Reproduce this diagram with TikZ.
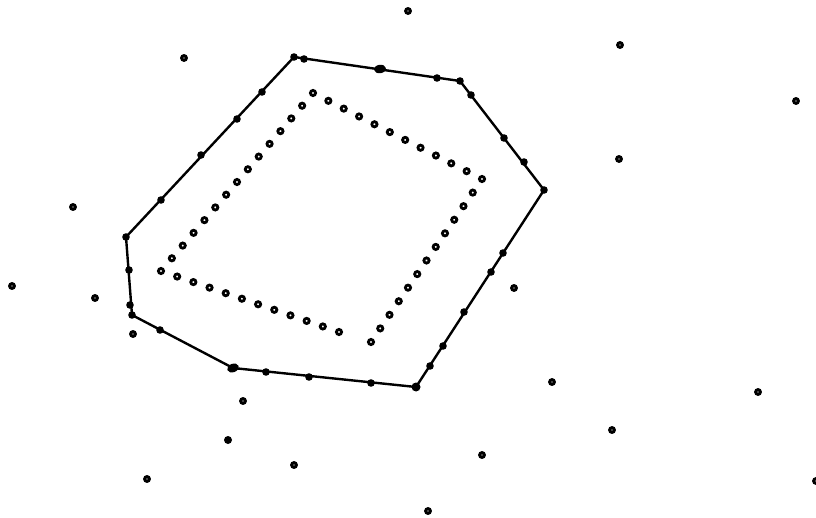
\documentclass[tikz,border=0pt]{standalone}
\usetikzlibrary{calc,shapes.geometric}
\begin{document}
\begin{tikzpicture}[x=1pt,y=-1pt,
  hull/.style={line width=2.4pt,line join=round},
  fdot/.style={circle,fill=black,inner sep=0pt,minimum size=7.6pt},
  bigdot/.style={ellipse,fill=black,inner sep=0pt,minimum width=12pt,minimum height=8.5pt},
  odot/.style={circle,draw=black,line width=2.8pt,inner sep=0pt,minimum size=5.2pt},
  sdot/.style={circle,draw=black,line width=3.1pt,inner sep=0pt,minimum size=4.6pt},
  sfill/.style={circle,fill=black,inner sep=0pt,minimum size=8pt}]
\useasboundingbox (0,0) rectangle (816,518);
% hull vertices
\coordinate (h1) at (294,57);
\coordinate (h2) at (460,81);
\coordinate (h3) at (544,190);
\coordinate (h4) at (416,387);
\coordinate (h5) at (233,368);
\coordinate (h6) at (132,315);
\coordinate (h7) at (126,237);
\draw[hull] (h1) -- (h2) -- (h3) -- (h4) -- (h5) -- (h6) -- (h7) -- cycle;
\foreach \v in {h1,h2,h3,h6,h7} \node[fdot] (d\v) at (\v) {};
\node[fdot,minimum size=9pt] (dh4) at (h4) {};
\node[bigdot,rotate=20] (dh5) at (h5) {};
% dots on hull edges
\node[fdot] (e1) at (161,200) {};
\node[fdot] (e2) at (201,155) {};
\node[fdot] (e3) at (237,119) {};
\node[fdot] (e4) at (262,92) {};
\node[fdot] (e5) at (304,59) {};
\node[bigdot,rotate=8] (e6) at (380,69) {};
\node[fdot] (e7) at (437,78) {};
\node[fdot] (e8) at (471,95) {};
\node[fdot] (e9) at (504,138) {};
\node[fdot] (e10) at (524,162) {};
\node[fdot] (e11) at (503,253) {};
\node[fdot] (e12) at (491,272) {};
\node[fdot] (e13) at (464,312) {};
\node[fdot] (e14) at (443,346) {};
\node[fdot] (e15) at (430,366) {};
\node[fdot] (e16) at (371,383) {};
\node[fdot] (e17) at (309,377) {};
\node[fdot] (e18) at (266,372) {};
\node[fdot] (e19) at (160,330) {};
\node[fdot] (e20) at (130,305) {};
\node[fdot] (e21) at (129,270) {};
% inner rectangle of open dots
\coordinate (RL) at (161,271);
\coordinate (RT) at (313,93);
\coordinate (RR) at (482,179);
\coordinate (RB) at (371,342);
\coordinate (RB2) at (339,332);
\foreach \i in {0,...,14} \node[odot] (l\i) at ($(RL)!{\i/14}!(RT)$) {};
\foreach \i in {1,...,11} \node[odot] (t\i) at ($(RT)!{\i/11}!(RR)$) {};
\foreach \i in {1,...,12} \node[odot] (r\i) at ($(RR)!{\i/12}!(RB)$) {};
\foreach \i in {1,...,11} \node[odot] (b\i) at ($(RL)!{\i/11}!(RB2)$) {};
% scattered points
\node[sdot] (s1) at (408,11) {};
\node[sdot] (s2) at (620,45) {};
\node[sdot] (s3) at (184,58) {};
\node[sdot] (s4) at (796,101) {};
\node[sdot] (s5) at (619,159) {};
\node[sdot] (s6) at (73,207) {};
\node[sdot] (s7) at (12,286) {};
\node[sdot] (s8) at (95,298) {};
\node[sdot] (s9) at (514,288) {};
\node[sdot] (s10) at (133,334) {};
\node[sdot] (s11) at (552,382) {};
\node[sdot] (s12) at (758,392) {};
\node[sdot] (s13) at (243,401) {};
\node[sdot] (s14) at (612,430) {};
\node[sfill] (s15) at (228,440) {};
\node[sdot] (s16) at (482,455) {};
\node[sdot] (s17) at (294,465) {};
\node[sdot] (s18) at (147,479) {};
\node[sdot] (s19) at (816,481) {};
\node[sdot] (s20) at (428,511) {};
\end{tikzpicture}
\end{document}
